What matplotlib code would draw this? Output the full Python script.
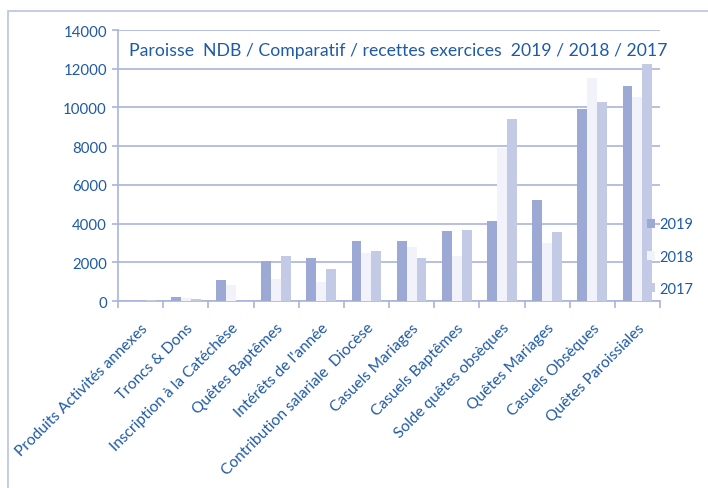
import matplotlib.pyplot as plt
import matplotlib.patches as patches
import numpy as np

plt.rcParams['font.family'] = ['Lato', 'DejaVu Sans']

# Categories and values (recettes per year)
categories = ['Produits Activités annexes', 'Troncs & Dons', 'Inscription à la Catéchèse',
              'Quêtes Baptêmes', "Intérêts de l'année", 'Contribution salariale  Diocèse',
              'Casuels Mariages', 'Casuels Baptêmes', 'Solde quêtes obsèques',
              'Quêtes Mariages', 'Casuels Obsèques', 'Quêtes Paroissiales']
v2019 = [0, 200, 1060, 2090, 2210, 3090, 3120, 3600, 4120, 5210, 9920, 11100]
v2018 = [0, 150, 850, 1150, 980, 2490, 2810, 2300, 7930, 2990, 11510, 10540]
v2017 = [60, 100, 0, 2350, 1630, 2590, 2200, 3670, 9400, 3590, 10270, 12260]
years = ['2019', '2018', '2017']

txt = '#1F5AA6'
grid = '#AAB4DD'
colors = ['#9DA9D5', '#F2F3FA', '#C3CAE6']

fig = plt.figure(figsize=(7.08, 4.89), dpi=100)
ax = fig.add_axes([0.1667, 0.3824, 0.7655, 0.5542])

# frame around the chart area
fig.patches.append(patches.Rectangle((8 / 708, -0.05), 1.1, 1 - 12 / 489 + 0.05,
                                     transform=fig.transFigure, fill=False,
                                     edgecolor='#B9C2E6', linewidth=1.2))

x = np.arange(len(categories))
w = 0.22
bars = []
for i, (vals, c) in enumerate(zip([v2019, v2018, v2017], colors)):
    b = ax.bar(x + (i - 1) * w, vals, w, color=c, label=years[i], zorder=3)
    bars.append(b)

ax.set_xlim(-0.5, len(categories) - 0.5)
ax.set_ylim(0, 14000)
ax.set_yticks(np.arange(0, 14001, 2000))
ax.yaxis.grid(True, color=grid, linewidth=1.2, zorder=0)
ax.set_axisbelow(True)

for s in ['top', 'right']:
    ax.spines[s].set_visible(False)
for s in ['left', 'bottom']:
    ax.spines[s].set_color(grid)
    ax.spines[s].set_linewidth(1.2)

ax.set_xticks(x)
ax.set_xticklabels(categories, rotation=45, ha='right', rotation_mode='anchor',
                   fontsize=11.2, color=txt)
ax.set_xticks(np.arange(-0.5, len(categories), 1), minor=True)
ax.tick_params(axis='x', which='major', length=0, pad=14)
ax.tick_params(axis='x', which='minor', length=5, color=grid, width=1.2)
ax.tick_params(axis='y', length=4, color=grid, width=1.2, labelsize=10.8,
               labelcolor=txt, pad=4)

ax.text(0.02, 0.925, 'Paroisse  NDB / Comparatif / recettes exercices  2019 / 2018 / 2017',
        transform=ax.transAxes, fontsize=12.7, color=txt, va='center', ha='left')

leg = fig.legend(handles=bars, labels=years, loc='center left',
                 bbox_to_anchor=(0.905, 0.473), frameon=False, fontsize=10.5,
                 handlelength=0.6, handleheight=0.6, handletextpad=0.3,
                 labelspacing=1.25, borderaxespad=0)
for t in leg.get_texts():
    t.set_color(txt)

fig.savefig('out.png', dpi=100)
